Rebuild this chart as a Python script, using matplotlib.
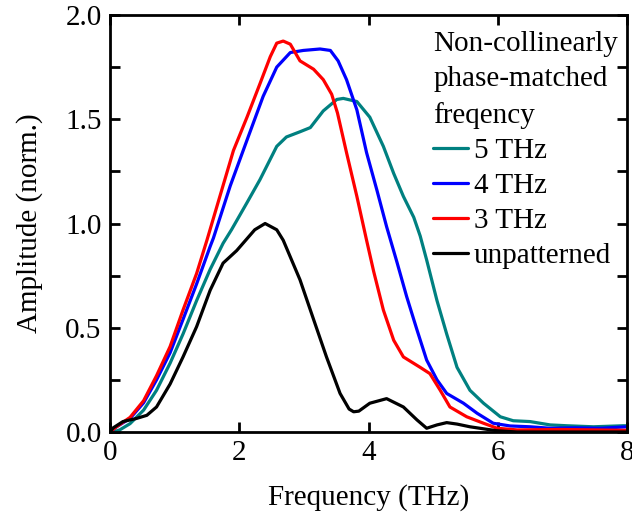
import matplotlib
matplotlib.use("Agg")
import matplotlib.pyplot as plt
from matplotlib.ticker import MultipleLocator, FormatStrFormatter

plt.rcParams['font.family'] = ['Liberation Serif', 'DejaVu Serif']

# Spectra: frequency (THz) and normalized amplitude
freq_5thz = [0.05, 0.15, 0.31, 0.52, 0.72, 0.93, 1.13, 1.34, 1.55, 1.75, 1.88, 2.12, 2.32,
             2.58, 2.73, 2.94, 3.10, 3.30, 3.51, 3.61, 3.82, 4.02, 4.23, 4.39, 4.54, 4.70,
             4.80, 4.90, 5.06, 5.21, 5.37, 5.57, 5.78, 6.04, 6.24, 6.5, 6.81, 7.07, 7.48,
             7.94, 8.0]
amp_5thz = [0.0, 0.01, 0.04, 0.105, 0.20, 0.33, 0.47, 0.63, 0.78, 0.905, 0.97, 1.10, 1.21,
            1.37, 1.415, 1.44, 1.46, 1.54, 1.595, 1.60, 1.585, 1.51, 1.37, 1.24, 1.13, 1.03,
            0.94, 0.825, 0.63, 0.47, 0.31, 0.20, 0.138, 0.073, 0.054, 0.05, 0.034, 0.03, 0.025,
            0.03, 0.03]

freq_4thz = [0, 0.10, 0.31, 0.52, 0.72, 0.93, 1.13, 1.34, 1.55, 1.60, 1.86, 2.12, 2.37,
             2.58, 2.79, 2.99, 3.25, 3.41, 3.53, 3.66, 3.82, 3.97, 4.13, 4.28, 4.44, 4.59,
             4.75, 4.90, 5.06, 5.21, 5.47, 5.68, 5.93, 6.19, 6.5, 6.81, 7.2, 7.6, 8.0]
amp_4thz = [0, 0.025, 0.065, 0.14, 0.25, 0.38, 0.54, 0.71, 0.89, 0.93, 1.18, 1.40, 1.61,
            1.75, 1.82, 1.83, 1.837, 1.83, 1.78, 1.69, 1.545, 1.34, 1.16, 0.985, 0.815, 0.65,
            0.49, 0.345, 0.25, 0.185, 0.138, 0.09, 0.042, 0.029, 0.025, 0.018, 0.02, 0.018, 0.025]

freq_3thz = [0, 0.10, 0.31, 0.52, 0.72, 0.93, 1.13, 1.34, 1.50, 1.70, 1.91, 2.12, 2.32,
             2.48, 2.58, 2.68, 2.79, 2.94, 3.15, 3.30, 3.43, 3.52, 3.66, 3.82, 3.97, 4.08,
             4.23, 4.39, 4.54, 4.80, 4.95, 5.11, 5.26, 5.52, 5.78, 5.99, 6.30, 7.0, 7.5, 8.0]
amp_3thz = [0, 0.025, 0.07, 0.15, 0.27, 0.41, 0.585, 0.76, 0.92, 1.13, 1.35, 1.51, 1.67,
            1.80, 1.865, 1.875, 1.86, 1.78, 1.74, 1.69, 1.62, 1.53, 1.34, 1.13, 0.92, 0.77,
            0.585, 0.44, 0.36, 0.31, 0.28, 0.20, 0.12, 0.073, 0.042, 0.018, 0.01, 0.012, 0.01,
            0.008]

freq_unpat = [0, 0.05, 0.20, 0.41, 0.57, 0.72, 0.93, 1.13, 1.34, 1.55, 1.75, 1.96, 2.10,
              2.24, 2.40, 2.58, 2.68, 2.94, 3.15, 3.35, 3.56, 3.70, 3.77, 3.85, 4.02, 4.28,
              4.54, 4.75, 4.90, 5.06, 5.21, 5.37, 5.57, 5.83, 5.99, 6.3, 8.0]
amp_unpat = [0, 0.02, 0.05, 0.065, 0.08, 0.12, 0.23, 0.36, 0.505, 0.68, 0.81, 0.87, 0.92,
             0.97, 1.00, 0.97, 0.92, 0.73, 0.54, 0.36, 0.185, 0.11, 0.097, 0.10, 0.138, 0.16,
             0.12, 0.058, 0.018, 0.034, 0.045, 0.038, 0.025, 0.013, 0.006, 0.0, 0.0]

series = [
    ("5 THz", freq_5thz, amp_5thz, "#008080"),
    ("4 THz", freq_4thz, amp_4thz, "#0000FF"),
    ("3 THz", freq_3thz, amp_3thz, "#FF0000"),
    ("unpatterned", freq_unpat, amp_unpat, "#000000"),
]

FS = 21

fig = plt.figure(figsize=(6.32, 5.23), dpi=100)
ax = fig.add_axes([110 / 632, 1 - 432 / 523, 517 / 632, 417 / 523])

for label, f, a, c in series:
    ax.plot(f, a, color=c, lw=2.3, label=label,
            solid_joinstyle='round', solid_capstyle='round')

ax.set_xlim(0, 8)
ax.set_ylim(0, 2.0)
ax.xaxis.set_major_locator(MultipleLocator(2))
ax.yaxis.set_major_locator(MultipleLocator(0.5))
ax.yaxis.set_minor_locator(MultipleLocator(0.25))
ax.yaxis.set_major_formatter(FormatStrFormatter('%.1f'))

ax.tick_params(which='both', direction='in', top=True, right=True, width=2,
               length=7, labelsize=FS, pad=6)
for sp in ax.spines.values():
    sp.set_linewidth(2)

ax.set_xlabel("Frequency (THz)", fontsize=FS, labelpad=13)
ax.set_ylabel("Amplitude (norm.)", fontsize=FS, labelpad=16)

leg = ax.legend(title="Non-collinearly\nphase-matched\nfreqency", loc='upper right',
                bbox_to_anchor=(0.994, 0.975),
                frameon=False, fontsize=FS, title_fontsize=FS, alignment='left',
                handlelength=1.2, handletextpad=0.2, labelspacing=0.3,
                borderaxespad=0.1, borderpad=0.1)
leg.get_title().set_linespacing(1.45)

fig.savefig("out.png", dpi=100)
